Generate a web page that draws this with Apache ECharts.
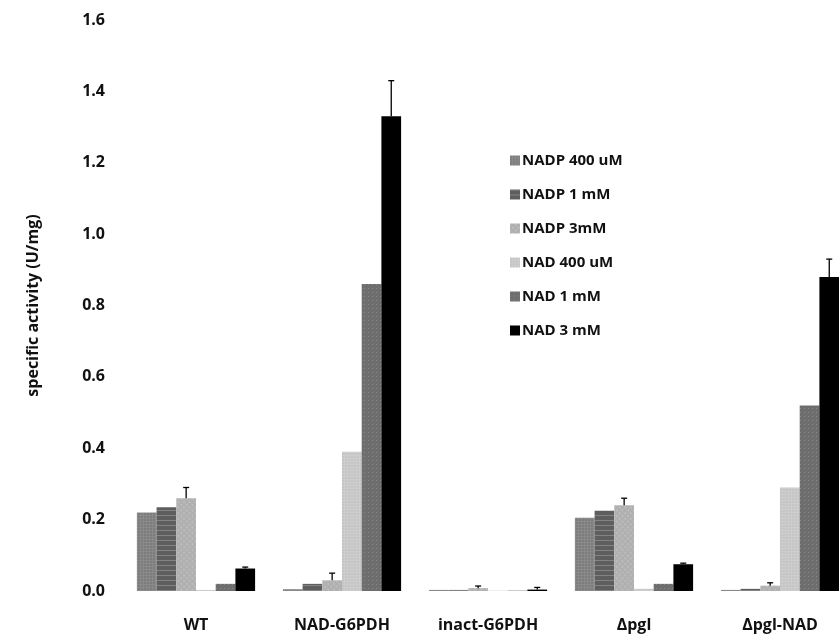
<!DOCTYPE html>
<html>
<head>
<meta charset="utf-8">
<script src="https://cdn.jsdelivr.net/npm/echarts@6/dist/echarts.min.js"></script>
<style>
  html, body { margin: 0; padding: 0; background: #fff; }
  #main { width: 839px; height: 641px; }
</style>
</head>
<body>
<div id="main"></div>
<script>
// strains on the x axis
var categories = ['WT', 'NAD-G6PDH', 'inact-G6PDH', 'Δpgl', 'Δpgl-NAD'];
var seriesNames = ['NADP 400 uM', 'NADP 1 mM', 'NADP 3mM', 'NAD 400 uM', 'NAD 1 mM', 'NAD 3 mM'];

// specific activity (U/mg)
var nadp400 = [0.22, 0.005, 0.003, 0.205, 0.003];
var nadp1 = [0.235, 0.02, 0.003, 0.225, 0.006];
var nadp3 = [0.26, 0.03, 0.008, 0.24, 0.015];
var nad400 = [0.003, 0.39, 0.001, 0.006, 0.29];
var nad1 = [0.02, 0.86, 0.001, 0.02, 0.52];
var nad3 = [0.063, 1.33, 0.004, 0.075, 0.88];

// error bars (upper half only)
var nadp400Err = [0, 0, 0, 0, 0];
var nadp1Err = [0, 0, 0, 0, 0];
var nadp3Err = [0.03, 0.02, 0.006, 0.02, 0.008];
var nad400Err = [0, 0, 0, 0, 0];
var nad1Err = [0, 0, 0, 0, 0];
var nad3Err = [0.004, 0.1, 0.006, 0.003, 0.05];

var yTicks = ['0.0', '0.2', '0.4', '0.6', '0.8', '1.0', '1.2', '1.4', '1.6'];

var values = [nadp400, nadp1, nadp3, nad400, nad1, nad3];
var errs = [nadp400Err, nadp1Err, nadp3Err, nad400Err, nad1Err, nad3Err];
var colors = ['#8a8a8a', '#5e5e5e', '#b0b0b0', '#cdcdcd', '#6e6e6e', '#000000'];
// scanned hatch textures
var decals = [
  { symbol: 'rect', symbolSize: 0.6, color: 'rgba(40,40,40,0.45)', dashArrayX: [2, 1], dashArrayY: [2, 1], rotation: 0 },
  { symbol: 'rect', symbolSize: 1, color: 'rgba(200,200,200,0.35)', dashArrayX: [1, 0], dashArrayY: [1, 4], rotation: 0 },
  { symbol: 'rect', symbolSize: 0.6, color: 'rgba(255,255,255,0.5)', dashArrayX: [2, 2], dashArrayY: [2, 2], rotation: 0.785 },
  { symbol: 'rect', symbolSize: 0.5, color: 'rgba(120,120,120,0.35)', dashArrayX: [2, 1], dashArrayY: [2, 1], rotation: 0 },
  { symbol: 'rect', symbolSize: 1, color: 'rgba(200,200,200,0.3)', dashArrayX: [[1, 3]], dashArrayY: [1, 3], rotation: 0 },
  null
];
var BAR_W = 19.7;
var FONT = '"Open Sans", "DejaVu Sans", sans-serif';

var chartObj = echarts.init(document.getElementById('main'));

var series = [];
var i = 0;
while (i < values.length) {
  var st = { color: colors[i] };
  if (decals[i]) st.decal = decals[i];
  series.push({
    name: seriesNames[i],
    type: 'bar',
    barWidth: BAR_W,
    barGap: '0%',
    itemStyle: st,
    data: values[i]
  });
  i++;
}

// error bars drawn on top of each bar with a custom series
var errData = [];
for (var s = 0; s < values.length; s++) {
  for (var c = 0; c < categories.length; c++) {
    if (errs[s][c] > 0) errData.push([c, values[s][c], errs[s][c], s]);
  }
}
series.push({
  type: 'custom',
  silent: true,
  z: 5,
  data: errData,
  renderItem: function (params, api) {
    var cat = api.value(0), v = api.value(1), e = api.value(2), k = api.value(3);
    var base = api.coord([cat, v]);
    var top = api.coord([cat, v + e]);
    var x = base[0] + (k - 2.5) * BAR_W;
    var style = { stroke: '#000', lineWidth: 1.3 };
    return {
      type: 'group',
      children: [
        { type: 'line', shape: { x1: x, y1: base[1], x2: x, y2: top[1] }, style: style },
        { type: 'line', shape: { x1: x - 3, y1: top[1], x2: x + 3, y2: top[1] }, style: style }
      ]
    };
  }
});

var option = {
  animation: false,
  backgroundColor: '#fff',
  grid: { left: 123, width: 730, top: 20, bottom: 50, outerBoundsMode: 'none', containLabel: false },
  legend: {
    data: seriesNames,
    orient: 'vertical',
    left: 505,
    top: 148,
    itemWidth: 10,
    itemHeight: 10,
    itemGap: 19,
    icon: 'rect',
    textStyle: { fontFamily: FONT, fontSize: 15, fontWeight: 'bold', color: '#111', padding: [0, 0, 0, -3] }
  },
  xAxis: {
    type: 'category',
    data: categories,
    axisLine: { show: false },
    axisTick: { show: false },
    axisLabel: { margin: 26, fontFamily: FONT, fontSize: 16, fontWeight: 'bold', color: '#111' }
  },
  yAxis: {
    type: 'value',
    min: 0,
    max: 1.6,
    interval: 0.2,
    name: 'specific activity (U/mg)',
    nameLocation: 'middle',
    nameGap: 82,
    nameTextStyle: { fontFamily: FONT, fontSize: 16, fontWeight: 'bold', color: '#111' },
    splitLine: { show: false },
    axisLine: { show: false },
    axisTick: { show: false },
    axisLabel: {
      margin: 18,
      fontFamily: FONT, fontSize: 16, fontWeight: 'bold', color: '#111',
      formatter: function (v) { return yTicks[Math.round(v / 0.2)]; }
    }
  },
  series: series
};
chartObj.setOption(option);
</script>
</body>
</html>
